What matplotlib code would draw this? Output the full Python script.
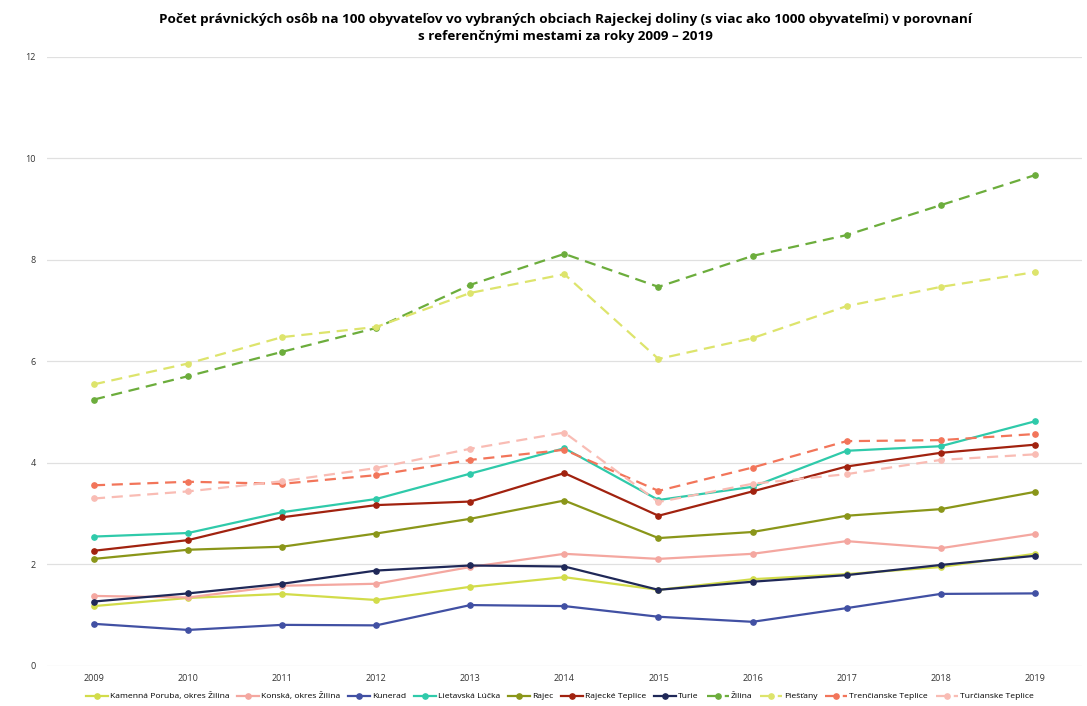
import matplotlib.pyplot as plt

plt.rcParams['font.family'] = ['Open Sans', 'DejaVu Sans']

# years and values (legal persons per 100 inhabitants)
years = [2009, 2010, 2011, 2012, 2013, 2014, 2015, 2016, 2017, 2018, 2019]

kamenna_poruba = [1.18, 1.34, 1.42, 1.30, 1.56, 1.75, 1.50, 1.71, 1.81, 1.95, 2.21]
konska = [1.38, 1.35, 1.58, 1.62, 1.95, 2.21, 2.11, 2.21, 2.46, 2.32, 2.60]
kunerad = [0.83, 0.71, 0.81, 0.80, 1.20, 1.18, 0.97, 0.87, 1.14, 1.42, 1.43]
lietavska_lucka = [2.55, 2.62, 3.03, 3.29, 3.79, 4.29, 3.27, 3.53, 4.24, 4.33, 4.82]
rajec = [2.11, 2.29, 2.35, 2.61, 2.90, 3.26, 2.52, 2.64, 2.96, 3.09, 3.43]
rajecke_teplice = [2.27, 2.48, 2.93, 3.17, 3.24, 3.80, 2.96, 3.44, 3.93, 4.20, 4.36]
turie = [1.27, 1.43, 1.62, 1.88, 1.98, 1.96, 1.50, 1.66, 1.79, 1.99, 2.17]
zilina = [5.25, 5.71, 6.19, 6.66, 7.51, 8.12, 7.47, 8.08, 8.49, 9.08, 9.67]
piestany = [5.55, 5.96, 6.48, 6.68, 7.35, 7.72, 6.05, 6.46, 7.09, 7.47, 7.76]
trencianske_teplice = [3.56, 3.63, 3.59, 3.76, 4.06, 4.26, 3.45, 3.91, 4.43, 4.45, 4.57]
turcianske_teplice = [3.30, 3.44, 3.64, 3.90, 4.28, 4.60, 3.23, 3.59, 3.78, 4.06, 4.17]

series = [
    ('Kamenná Poruba, okres Žilina', kamenna_poruba, '#d2dc4a', '-'),
    ('Konská, okres Žilina', konska, '#f4a7a0', '-'),
    ('Kunerad', kunerad, '#4150a3', '-'),
    ('Lietavská Lúčka', lietavska_lucka, '#2fcaaa', '-'),
    ('Rajec', rajec, '#8a9619', '-'),
    ('Rajecké Teplice', rajecke_teplice, '#a1220f', '-'),
    ('Turie', turie, '#1f2858', '-'),
    ('Žilina', zilina, '#6cad3c', '--'),
    ('Piešťany', piestany, '#dde46c', '--'),
    ('Trenčianske Teplice', trencianske_teplice, '#f2755a', '--'),
    ('Turčianske Teplice', turcianske_teplice, '#f9bcb4', '--'),
]

fig = plt.figure(figsize=(10.87, 7.06), dpi=100)
ax = fig.add_axes([0.0432, 0.0567, 0.952, 0.8626])

for name, vals, col, ls in series:
    ax.plot(years, vals, ls, color=col, lw=1.6, marker='o', ms=3.8,
            label=name, dashes=(5, 3) if ls == '--' else (None, None))

ax.set_xlim(2008.5, 2019.5)
ax.set_ylim(0, 12)
ax.set_xticks(years)
ax.set_yticks([0, 2, 4, 6, 8, 10, 12])
ax.tick_params(length=0, labelsize=6.5, colors='#333333')
ax.tick_params(axis='x', pad=6)
ax.tick_params(axis='y', pad=8)
ax.grid(axis='y', color='#e0e0e0', lw=0.9)
ax.set_axisbelow(True)
for s in ax.spines.values():
    s.set_visible(False)

fig.suptitle('Počet právnických osôb na 100 obyvateľov vo vybraných obciach Rajeckej doliny (s viac ako 1000 obyvateľmi) v porovnaní\n'
             's referenčnými mestami za roky 2009 – 2019',
             fontsize=9.7, fontweight='bold', x=0.52, y=0.982, linespacing=1.45)

fig.legend(loc='lower center', bbox_to_anchor=(0.515, -0.003), ncol=11, frameon=False,
           fontsize=6.1, handlelength=2.6, columnspacing=0.9, handletextpad=0.25)

fig.savefig('out.png', dpi=100)
